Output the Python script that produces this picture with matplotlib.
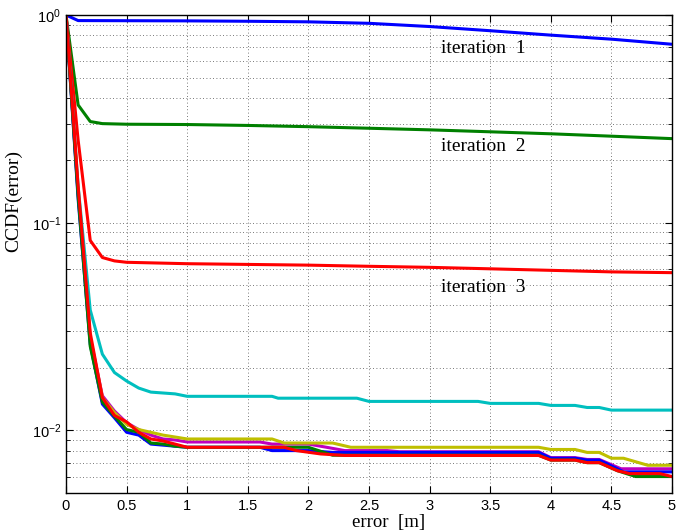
import matplotlib
matplotlib.use("Agg")
import matplotlib.pyplot as plt
from matplotlib.ticker import LogLocator, NullFormatter, FixedLocator

plt.rcParams['font.family'] = ['Liberation Sans', 'DejaVu Sans']
plt.rcParams['mathtext.fontset'] = 'custom'
plt.rcParams['mathtext.rm'] = 'Liberation Sans'
plt.rcParams['mathtext.it'] = 'Liberation Sans:italic'

# iteration 1..3 (labelled curves)
x_it1 = [0, 0.1, 1.0, 1.5, 2.0, 2.5, 3.0, 3.5, 4.0, 4.5, 5.0]
y_it1 = [1, 0.94, 0.937, 0.933, 0.927, 0.912, 0.88, 0.84, 0.80, 0.765, 0.723]

x_it2 = [0, 0.1, 0.2, 0.3, 0.5, 1.0, 1.5, 2.0, 2.5, 3.0, 3.5, 4.0, 4.5, 5.0]
y_it2 = [1, 0.369, 0.307, 0.300, 0.298, 0.297, 0.294, 0.290, 0.285, 0.280, 0.274, 0.268, 0.261, 0.254]

x_it3 = [0, 0.1, 0.2, 0.3, 0.4, 0.5, 1.0, 1.5, 2.0, 2.5, 3.0, 3.5, 4.0, 4.5, 5.0]
y_it3 = [1, 0.25, 0.0822, 0.068, 0.0655, 0.0645, 0.0635, 0.063, 0.0625, 0.0617, 0.061, 0.060, 0.059, 0.058, 0.0575]

# later iterations
x_it4 = [0, 0.1, 0.2, 0.3, 0.4, 0.5, 0.6, 0.7, 0.9, 1.0, 1.7, 1.75, 2.4, 2.5, 3.4, 3.5, 3.9, 4.0, 4.2, 4.3, 4.4, 4.5, 5.0]
y_it4 = [1, 0.15, 0.038, 0.0233, 0.019, 0.0173, 0.016, 0.0153, 0.015, 0.0146, 0.0146, 0.0143, 0.0143, 0.0138,
         0.0138, 0.0135, 0.0135, 0.0132, 0.0132, 0.0129, 0.0129, 0.01253, 0.01253]

x_it5 = [0, 0.1, 0.2, 0.3, 0.4, 0.5, 0.6, 0.7, 0.8, 0.9, 1.0, 1.6, 1.7, 2.0, 2.15, 2.3, 2.65, 2.75, 3.9, 4.0, 4.2,
         4.3, 4.4, 4.58, 5.0]
y_it5 = [1, 0.14, 0.028, 0.0147, 0.0124, 0.0109, 0.0101, 0.0095, 0.0091, 0.0090, 0.0088, 0.0088, 0.0086, 0.0086,
         0.0083, 0.0080, 0.0080, 0.0079, 0.0079, 0.0074, 0.0074, 0.00725, 0.00725, 0.00654, 0.00654]

x_it6 = [0, 0.1, 0.2, 0.3, 0.4, 0.5, 0.6, 0.7, 0.8, 0.9, 1.0, 1.7, 1.8, 2.2, 2.35, 3.9, 4.0, 4.2, 4.3, 4.4, 4.5,
         4.6, 4.8, 5.0]
y_it6 = [1, 0.14, 0.028, 0.0144, 0.0122, 0.0107, 0.0101, 0.0098, 0.0095, 0.0093, 0.0091, 0.0091, 0.0087, 0.0087,
         0.0083, 0.0083, 0.0081, 0.0081, 0.00784, 0.00784, 0.00735, 0.00735, 0.0068, 0.0068]

x_it7 = [0, 0.1, 0.2, 0.3, 0.4, 0.5, 0.6, 0.7, 0.8, 1.0, 1.6, 1.7, 2.0, 2.2, 3.9, 4.0, 4.2, 4.3, 4.4, 4.55, 4.6, 5.0]
y_it7 = [1, 0.13, 0.026, 0.0134, 0.0115, 0.0098, 0.0095, 0.0086, 0.0085, 0.0083, 0.0083, 0.0080, 0.0080, 0.00784,
         0.00784, 0.00735, 0.00735, 0.0072, 0.0072, 0.00654, 0.00632, 0.00632]

x_it8 = [0, 0.1, 0.2, 0.3, 0.4, 0.5, 0.6, 0.7, 0.8, 0.9, 1.0, 2.0, 2.2, 3.9, 4.0, 4.2, 4.3, 4.4, 4.55, 4.7, 5.0]
y_it8 = [1, 0.135, 0.0254, 0.0137, 0.0117, 0.0101, 0.0098, 0.0087, 0.0086, 0.0084, 0.0083, 0.0083, 0.0076, 0.0076,
         0.0072, 0.0072, 0.0070, 0.0070, 0.0064, 0.0060, 0.0060]

x_it9 = [0, 0.1, 0.2, 0.3, 0.4, 0.5, 0.6, 0.7, 0.8, 0.9, 1.0, 1.8, 1.9, 2.1, 2.3, 3.9, 4.0, 4.2, 4.3, 4.4, 4.55,
         4.65, 4.9, 5.0]
y_it9 = [1, 0.15, 0.0295, 0.0144, 0.0118, 0.0110, 0.0098, 0.0091, 0.0089, 0.0086, 0.0083, 0.0083, 0.0080, 0.00771,
         0.00758, 0.00758, 0.0072, 0.0072, 0.0070, 0.0070, 0.0064, 0.0062, 0.0062, 0.0060]

series = [
    (x_it1, y_it1, (0, 0, 1)),
    (x_it2, y_it2, (0, 0.5, 0)),
    (x_it3, y_it3, (1, 0, 0)),
    (x_it4, y_it4, (0, 0.75, 0.75)),
    (x_it5, y_it5, (0.75, 0, 0.75)),
    (x_it6, y_it6, (0.75, 0.75, 0)),
    (x_it7, y_it7, (0, 0, 1)),
    (x_it8, y_it8, (0, 0.5, 0)),
    (x_it9, y_it9, (1, 0, 0)),
]

fig = plt.figure(figsize=(6.93, 5.31), dpi=100)
ax = fig.add_axes([66 / 693, 1 - 493 / 531, 606 / 693, 478 / 531])

for xs, ys, col in series:
    ax.plot(xs, ys, color=col, lw=2.2)

ax.set_yscale('log')
ax.set_xlim(0, 5)
ax.set_ylim(0.005, 1)
ax.xaxis.set_major_locator(FixedLocator([0, 0.5, 1, 1.5, 2, 2.5, 3, 3.5, 4, 4.5, 5]))
ax.set_xticklabels(['0', '0.5', '1', '1.5', '2', '2.5', '3', '3.5', '4', '4.5', '5'])
ax.yaxis.set_major_locator(LogLocator(base=10, numticks=10))
ax.yaxis.set_minor_locator(LogLocator(base=10, subs=range(2, 10), numticks=10))
ax.yaxis.set_minor_formatter(NullFormatter())

ax.grid(True, which='major', axis='x', linestyle=(0, (1, 3)), color='k', lw=0.6, alpha=0.7)
ax.grid(True, which='both', axis='y', linestyle=(0, (1, 3)), color='k', lw=0.6, alpha=0.7)

ax.tick_params(which='both', direction='in', top=True, right=True, labelsize=10.5)
ax.tick_params(which='major', length=5)
ax.tick_params(which='minor', length=3)
ax.tick_params(axis='x', pad=4)
for s in ax.spines.values():
    s.set_linewidth(1.0)

serif = ['Liberation Serif', 'DejaVu Serif']
ax.set_xlabel('error  [m]', family=serif, fontsize=13.5)
ax.xaxis.set_label_coords(0.533, -0.044)
ax.set_ylabel('CCDF(error)', family=serif, fontsize=14)
ax.yaxis.set_label_coords(-0.072, 0.61)

ax.text(3.09, 0.69, 'iteration  1', family=serif, fontsize=14, va='center')
ax.text(3.09, 0.232, 'iteration  2', family=serif, fontsize=14, va='center')
ax.text(3.09, 0.0487, 'iteration  3', family=serif, fontsize=14, va='center')

fig.savefig('out.png', dpi=100)
